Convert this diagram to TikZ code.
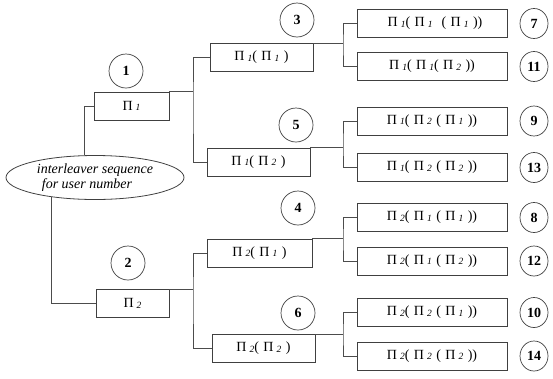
\documentclass[tikz,border=0pt]{standalone}
\usepackage{fontspec}
\setmainfont{Liberation Serif}
\usetikzlibrary{shapes.geometric}

% permutation symbol with a small italic index
\newcommand\pin[1]{Π\hspace{3pt}\raisebox{-0.5pt}{\fontsize{9.5}{9.5}\selectfont\itshape #1}}
% wide gap inside the nested brackets
\newcommand\gp{\hspace{4.5pt}}

\tikzset{
  box/.style={draw=black!75, line width=0.8pt, minimum height=28pt, inner sep=0pt,
              font=\fontsize{14}{14}\selectfont},
  numl/.style={draw=black!75, line width=0.7pt, ellipse, minimum width=34pt, minimum height=34pt,
               inner sep=0pt, font=\fontsize{14}{14}\selectfont\bfseries},
  nums/.style={numl, minimum width=28pt, minimum height=30pt},
  link/.style={draw=black!70, line width=0.8pt}
}

\begin{document}
\begin{tikzpicture}[x=1pt, y=-1pt]
\useasboundingbox (0,0) rectangle (553,378);

% root
\node[draw=black!75, line width=0.8pt, ellipse, minimum width=178pt, minimum height=44pt,
      inner sep=0pt, align=left, font=\fontsize{14}{15}\selectfont\itshape]
  (ell) at (95,177.5) {interleaver sequence\\\hspace{5pt}for user number};

% first level
\node[box, minimum width=75pt] (p1) at (131.5,106) {\pin1};
\node[box, minimum width=73pt] (p2) at (132.5,303.5) {\pin2};

% second level
\node[box, minimum width=103pt] (p11) at (261.5,57.5) {\pin1(\gp\pin1\gp)};
\node[box, minimum width=103pt] (p12) at (258.5,162) {\pin1(\gp\pin2\gp)};
\node[box, minimum width=105pt] (p21) at (259.5,253) {\pin2(\gp\pin1\gp)};
\node[box, minimum width=103pt] (p22) at (263.5,348.5) {\pin2(\gp\pin2\gp)};

% third level
\node[box, minimum width=150pt] (p111) at (432,23.5) {\hspace{6pt}\pin1(\gp\pin1\gp\gp(\gp\pin1\gp))};
\node[box, minimum width=150pt] (p112) at (432,66.5) {\pin1(\gp\pin1(\gp\pin2\gp))};
\node[box, minimum width=150pt] (p121) at (432,121) {\pin1(\gp\pin2\gp(\gp\pin1\gp))};
\node[box, minimum width=150pt] (p122) at (432,167.5) {\pin1(\gp\pin2\gp(\gp\pin2\gp))};
\node[box, minimum width=150pt] (p211) at (432,217.5) {\pin2(\gp\pin1\gp(\gp\pin1\gp))};
\node[box, minimum width=150pt] (p212) at (432,261) {\pin2(\gp\pin1\gp(\gp\pin2\gp))};
\node[box, minimum width=150pt] (p221) at (432,312.5) {\pin2(\gp\pin2\gp(\gp\pin1\gp))};
\node[box, minimum width=150pt] (p222) at (432,356) {\pin2(\gp\pin2\gp(\gp\pin2\gp))};

% user numbers
\node[numl] (n1) at (126,71) {1};
\node[numl] (n2) at (128,263) {2};
\node[numl] (n3) at (297,20) {3};
\node[numl] (n5) at (296,125) {5};
\node[numl] (n4) at (298,208) {4};
\node[numl] (n6) at (298,313) {6};
\node[nums] (n7) at (534,23.5) {7};
\node[nums] (n11) at (534,66.5) {11};
\node[nums] (n9) at (534,121) {9};
\node[nums] (n13) at (534,167.5) {13};
\node[nums] (n8) at (534,217.5) {8};
\node[nums] (n12) at (534,261) {12};
\node[nums] (n10) at (534,312.5) {10};
\node[nums] (n14) at (534,356) {14};

% branching points
\coordinate (j1) at (193,106);
\coordinate (j2) at (193,300);
\coordinate (j11) at (343,45);
\coordinate (j12) at (343,145);
\coordinate (j21) at (343,240);
\coordinate (j22) at (343,335);

% connectors
\draw[link] (ell.116.7) |- (p1.west);
\draw[link] (ell.204.8) |- (p2.west);

\draw[link] (p1.north east) -- (p1.north east -| j1);
\draw[link] (p11.west) -| (j1) |- (p12.west);
\draw[link] (p2.north east) -- (p2.north east -| j2);
\draw[link] (p21.west) -| (j2) |- (p22.west);

\draw[link] (p11.north east) -- (p11.north east -| j11);
\draw[link] (p111.west) -| (j11) |- (p112.west);
\draw[link] (p12.north east) -- (p12.north east -| j12);
\draw[link] (p121.west) -| (j12) |- (p122.west);
\draw[link] (p21.north east) -- (p21.north east -| j21);
\draw[link] (p211.west) -| (j21) |- (p212.west);
\draw[link] (p22.north east) -- (p22.north east -| j22);
\draw[link] (p221.west) -| (j22) |- (p222.west);
\end{tikzpicture}
\end{document}
